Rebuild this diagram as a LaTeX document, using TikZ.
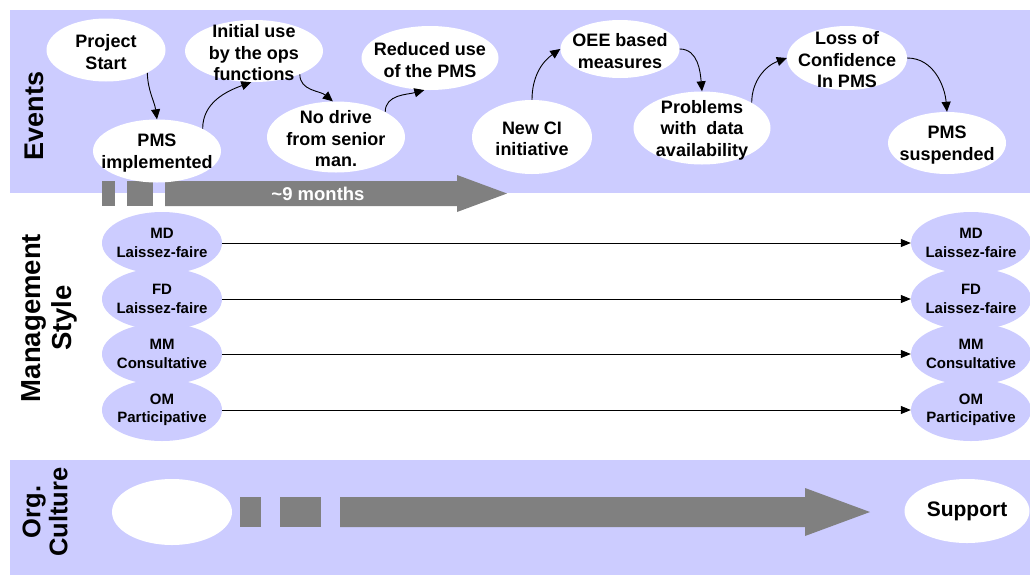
\documentclass[tikz,border=0pt]{standalone}
\usepackage{fontspec}
\setmainfont{Liberation Sans}
\usetikzlibrary{arrows.meta,shapes.geometric}
\definecolor{band}{RGB}{204,204,255}
\definecolor{bar}{RGB}{128,128,128}
\begin{document}
\begin{tikzpicture}[x=1pt,y=1pt,
  % white event ellipse of fixed size, its text set on top
  event/.style n args={3}{ellipse,fill=white,inner sep=0pt,
    minimum width=#1pt,minimum height=#2pt,
    label={[align=center,inner sep=0pt,yshift=-2pt,font=\fontsize{18}{21.5}\selectfont\bfseries]center:{#3}}},
  mstyle/.style={ellipse,fill=band,minimum width=120pt,minimum height=62pt,inner sep=0pt,
    label={[align=center,inner sep=0pt,font=\fontsize{15}{18.5}\selectfont\bfseries]center:{#1}}},
  flow/.style={-{Triangle[length=10pt,width=9pt]},line width=0.9pt},
  level/.style={-{Triangle[length=10pt,width=8pt]},line width=0.8pt},
  rowlabel/.style={rotate=90,align=center}]
\useasboundingbox (0,0) rectangle (1030,-576);

% bands
\fill[band] (10,-10) rectangle (1030,-193);
\fill[band] (10,-460) rectangle (1030,-575);

% row labels
\node[rowlabel,font=\fontsize{27}{28}\selectfont\bfseries] (lev) at (34,-116) {Events};
\node[rowlabel,font=\fontsize{27.5}{31}\selectfont\bfseries] (lms) at (49,-318) {Management\\Style};
\node[rowlabel,font=\fontsize{25.5}{27}\selectfont\bfseries] (loc) at (45,-512) {Org.\\Culture};

% timeline under the events
\fill[bar] (102,-181) rectangle (115,-206);
\fill[bar] (127,-181) rectangle (153,-206);
\fill[bar] (165,-181) -- (457,-181) -- (457,-175) -- (507,-193.5)
  -- (457,-212) -- (457,-206) -- (165,-206) -- cycle;
\node[text=white,font=\fontsize{18.5}{20}\selectfont\bfseries] (months) at (318,-194) {\textasciitilde9 months};

% events
\node[event={119}{63}{Project\\Start}] (ps) at (106,-50) {};
\node[event={138}{62}{Initial use\\by the ops\\functions}] (iu) at (254,-51) {};
\node[event={137}{64}{Reduced use\\of the PMS}] (ru) at (430,-58) {};
\node[event={128}{63}{PMS\\implemented}] (pi) at (157,-151) {};
\node[event={138}{71}{No drive\\from senior\\man.}] (nd) at (336,-137) {};
\node[event={120}{74}{New CI\\initiative}] (nci) at (532,-137) {};
\node[event={119}{58}{OEE based\\measures}] (oee) at (620,-49) {};
\node[event={137}{73}{Problems\\with\ \ data\\availability}] (pr) at (702,-128) {};
\node[event={120}{64}{Loss of\\Confidence\\In PMS}] (lc) at (847,-58) {};
\node[event={118}{62}{PMS\\suspended}] (su) at (947,-143) {};

% event sequence
\draw[flow] (ps.-29) to[out=-88,in=98] (pi.north);
\draw[flow] (pi.26) to[out=90,in=200] (iu.-95);
\draw[flow] (iu.-27) to[out=-90,in=140] (nd.95);
\draw[flow] (nd.27) to[out=90,in=195] (ru.-100);
\draw[flow] (nci.north) to[out=90,in=215] (oee.west);
\draw[flow] (oee.east) to[out=0,in=95] (pr.north);
\draw[flow] (pr.27) to[out=90,in=200] (lc.west);
\draw[flow] (lc.east) to[out=0,in=95] (su.north);

% management style, start and end
\node[mstyle={MD\\Laissez-faire}] (md1) at (162,-243) {};
\node[mstyle={FD\\Laissez-faire}] (fd1) at (162,-299) {};
\node[mstyle={MM\\Consultative}] (mm1) at (162,-354) {};
\node[mstyle={OM\\Participative}] (om1) at (162,-410) {};
\node[mstyle={MD\\Laissez-faire}] (md2) at (971,-243) {};
\node[mstyle={FD\\Laissez-faire}] (fd2) at (971,-299) {};
\node[mstyle={MM\\Consultative}] (mm2) at (971,-354) {};
\node[mstyle={OM\\Participative}] (om2) at (971,-410) {};
\draw[level] (md1.east) -- (md2.west);
\draw[level] (fd1.east) -- (fd2.west);
\draw[level] (mm1.east) -- (mm2.west);
\draw[level] (om1.east) -- (om2.west);

% organisational culture
\node[ellipse,fill=white,minimum width=120pt,minimum height=66pt] (oc1) at (172,-512) {};
\fill[bar] (240,-497) rectangle (261,-527);
\fill[bar] (280,-497) rectangle (321,-527);
\fill[bar] (340,-497) -- (805,-497) -- (805,-488) -- (870,-512)
  -- (805,-536) -- (805,-527) -- (340,-527) -- cycle;
\node[ellipse,fill=white,minimum width=125pt,minimum height=64pt,inner sep=0pt,
  label={[inner sep=0pt,font=\fontsize{21}{22}\selectfont\bfseries]center:Support}] (oc2) at (967,-511) {};
\end{tikzpicture}
\end{document}
